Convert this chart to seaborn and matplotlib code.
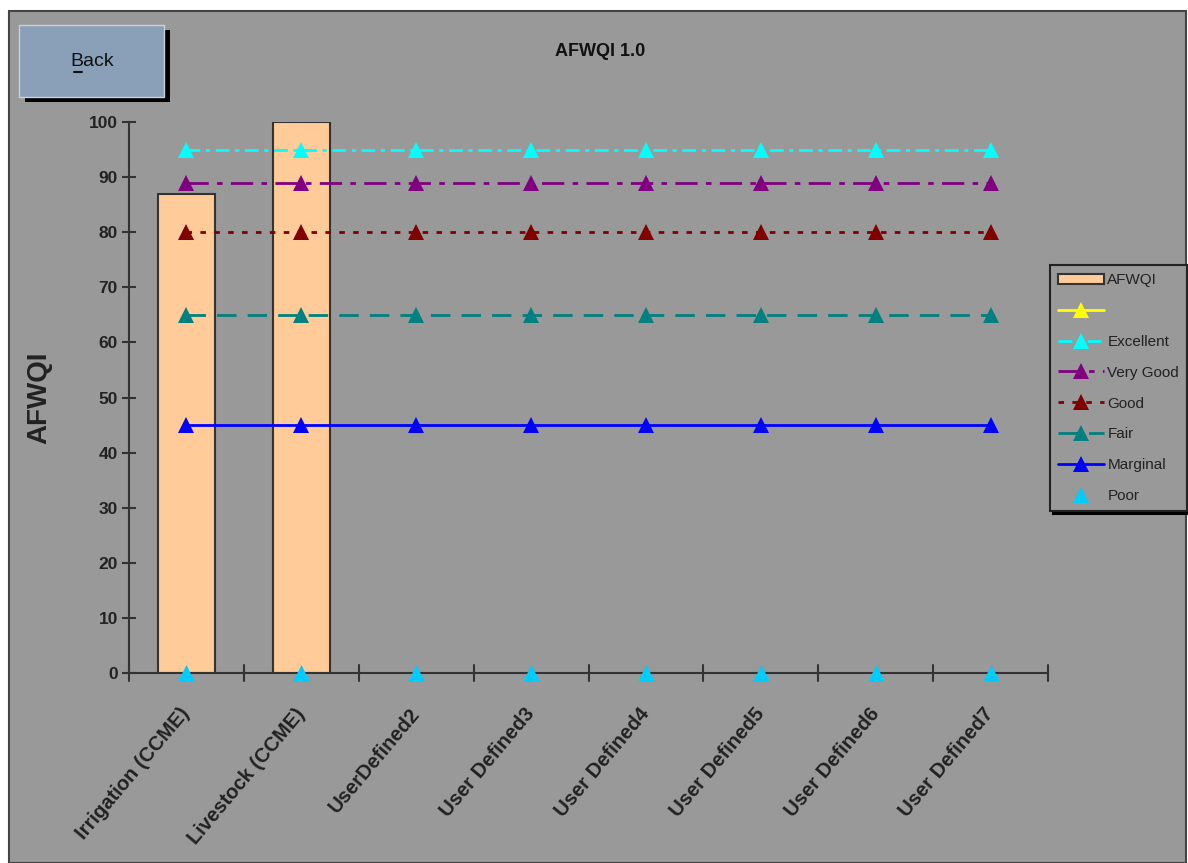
import numpy as np
import pandas as pd
import matplotlib
matplotlib.use("Agg")
import matplotlib.pyplot as plt
import matplotlib.transforms as mtransforms
import seaborn as sns
from matplotlib.patches import Rectangle, Patch
from matplotlib.lines import Line2D

categories = ["Irrigation (CCME)", "Livestock (CCME)", "UserDefined2", "User Defined3",
              "User Defined4", "User Defined5", "User Defined6", "User Defined7"]
afwqi = [87, 100, np.nan, np.nan, np.nan, np.nan, np.nan, np.nan]
excellent = [95] * 8
very_good = [89] * 8
good = [80] * 8
fair = [65] * 8
marginal = [45] * 8
poor = [0] * 8
y_ticks = list(range(0, 101, 10))

sns.set_theme(style="white")
FONT = ["Liberation Sans Narrow", "Liberation Sans", "DejaVu Sans"]
plt.rcParams["font.family"] = FONT

BG = "#999999"
fig = plt.figure(figsize=(11.88, 8.63), dpi=100, facecolor="white")
W, H = 1188, 863

def fx(px):
    return px / W

def fy(py):
    return 1 - py / H

# panel background with dark frame
fig.patches.append(Rectangle((fx(9), 0), fx(1186) - fx(9), fy(11), transform=fig.transFigure,
                             facecolor=BG, edgecolor="#444444", linewidth=1.5, zorder=-5))

ax = fig.add_axes([fx(129), fy(673), fx(1048) - fx(129), fy(122) - fy(673)])
ax.set_facecolor("none")
ax.set_zorder(2)

df = pd.DataFrame({"category": categories, "AFWQI": afwqi})
sns.barplot(data=df, x="category", y="AFWQI", order=categories, ax=ax,
            color="#ffcc99", saturation=1, width=0.5, edgecolor="#333333", linewidth=1.5)

pos = np.arange(len(categories))
ms = 12
series = [
    ("", [np.nan] * 8, "#ffff00", "-"),
    ("Excellent", excellent, "#00ffff", (0, (5, 2, 1.5, 2))),
    ("Very Good", very_good, "#800080", (0, (8, 3, 2, 3))),
    ("Good", good, "#800000", (0, (2, 3))),
    ("Fair", fair, "#008080", (0, (7, 4))),
    ("Marginal", marginal, "#0000ff", "-"),
]
handles = [Patch(facecolor="#ffcc99", edgecolor="#333333", linewidth=1.5, label="AFWQI")]
for label, vals, col, ls in series:
    sns.lineplot(x=pos, y=vals, ax=ax, color=col, linestyle=ls, linewidth=2,
                 marker="^", markersize=ms, markeredgewidth=0, legend=False, zorder=3)
    handles.append(Line2D([], [], color=col, linestyle=ls, linewidth=2, marker="^",
                          markersize=ms - 1, markeredgewidth=0, label=label))
sns.scatterplot(x=pos, y=poor, ax=ax, color="#00ccff", marker="^", s=150,
                linewidth=0, legend=False, zorder=4, clip_on=False)
handles.append(Line2D([], [], color="#00ccff", linestyle="none", marker="^",
                      markersize=ms - 1, markeredgewidth=0, label="Poor"))

ax.set_xlim(-0.5, len(categories) - 0.5)
ax.set_ylim(0, 100)
ax.set_yticks(y_ticks)
ax.set_yticklabels([str(v) for v in y_ticks], fontsize=12.5, fontweight="bold", color="#222222")
ax.set_xticks(pos)
ax.set_xticklabels(categories, rotation=50, ha="right", va="center", rotation_mode="anchor",
                   fontsize=14.5, fontweight="bold", color="#222222")
shift = mtransforms.ScaledTranslation(-5 / 100, 0, fig.dpi_scale_trans)
for lbl in ax.get_xticklabels():
    lbl.set_transform(lbl.get_transform() + shift)
ax.tick_params(axis="x", length=0, pad=27)
ax.tick_params(axis="y", direction="inout", length=10, width=1.5, color="#333333", pad=3, left=True)
for x in np.arange(-0.5, len(categories), 1.0):
    ax.plot([x, x], [-1.5, 1.5], color="#333333", linewidth=1.5, clip_on=False, zorder=5)
ax.set_xlabel("")
ax.set_ylabel("AFWQI", fontsize=20, fontweight="bold", color="#222222", labelpad=26)
for side in ["top", "right"]:
    ax.spines[side].set_visible(False)
for side in ["left", "bottom"]:
    ax.spines[side].set_color("#333333")
    ax.spines[side].set_linewidth(1.5)

fig.text(fx(600), fy(52), "AFWQI 1.0", ha="center", va="center", fontsize=13,
         fontweight="bold", color="#111111")

leg = fig.legend(handles=handles, loc="upper left", bbox_to_anchor=(fx(1050), fy(265)),
                 bbox_transform=fig.transFigure, frameon=True, fancybox=False,
                 shadow={"color": "black", "alpha": 1}, fontsize=11, handlelength=3.0,
                 handletextpad=0.2, labelspacing=1.1, borderpad=0.55, borderaxespad=0)
leg.get_frame().set_facecolor(BG)
leg.get_frame().set_edgecolor("#222222")
leg.get_frame().set_linewidth(1.5)
for t in leg.get_texts():
    t.set_color("#222222")

# Back button
fig.patches.append(Rectangle((fx(25), fy(102)), fx(145), fy(0) - fy(72), transform=fig.transFigure,
                             facecolor="black", edgecolor="none", zorder=1))
fig.patches.append(Rectangle((fx(19), fy(97)), fx(145), fy(0) - fy(72), transform=fig.transFigure,
                             facecolor="#8aa0b8", edgecolor="#c8d2dc", linewidth=1, zorder=2))
fig.text(fx(92), fy(61), "Back", ha="center", va="center", fontsize=14, color="#111111", zorder=3)
fig.lines.append(Line2D([fx(74), fx(82)], [fy(72), fy(72)], transform=fig.transFigure,
                        color="#111111", linewidth=1.5, zorder=3))

fig.savefig("out.png", dpi=100, facecolor=fig.get_facecolor())
